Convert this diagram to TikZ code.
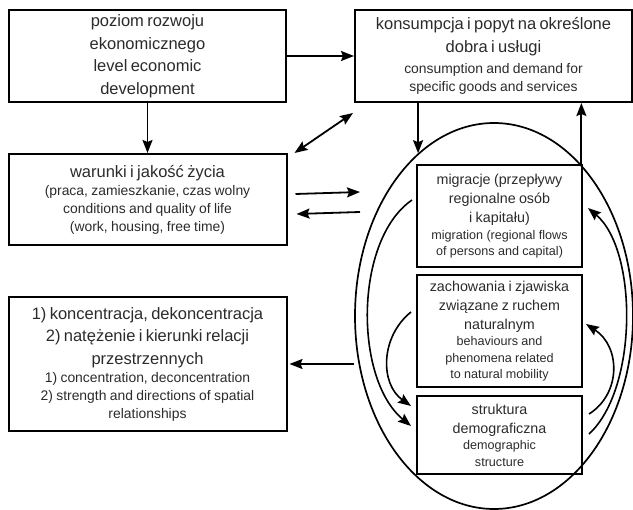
\documentclass[tikz,border=0pt]{standalone}
\usepackage{fontspec}
\setmainfont{Liberation Sans}
\usetikzlibrary{arrows.meta,positioning,shapes.geometric}
\definecolor{Ink}{HTML}{2B2B2B}
\newcommand{\headfont}{\fontsize{16.5}{22.5}\selectfont}
\newcommand{\notefont}{\fontsize{13.9}{18}\selectfont}
\newcommand{\inhead}{\fontsize{14.3}{19.2}\selectfont}
\newcommand{\innote}{\fontsize{12.6}{16.4}\selectfont}

\begin{document}
\begin{tikzpicture}[x=1pt,y=-1pt,node distance=50pt and 67pt,
    >={Stealth[length=13pt,width=10pt,inset=2pt]},
    box/.style={draw,line width=2pt,inner sep=0pt,align=center,text=Ink},
    arr/.style={->,line width=1.8pt},
    curarr/.style={->,line width=1.6pt}]
  \useasboundingbox (0,0) rectangle (633,510);
  \node[box,text width=277pt,minimum height=92pt] (level) at (147.5,56)
    {\headfont poziom rozwoju\\ ekonomicznego\\ level economic\\ development\par};
  \node[box,text width=277pt,minimum height=92pt,right=of level] (cons)
    {{\headfont konsumpcja i popyt na określone\\ dobra i usługi\par}\vspace{3pt}
     \notefont consumption and demand for\\ specific goods and services\par};
  \node[box,text width=278pt,minimum height=91pt,below=of level] (cond)
    {{\headfont warunki i jakość życia\par}
     \notefont (praca, zamieszkanie, czas wolny\\ conditions and quality of life\\ (work, housing, free time)\par};
  \node[box,text width=278pt,minimum height=134pt,below=of cond] (rel)
    {{\headfont 1) koncentracja, dekoncentracja\\ 2) natężenie i kierunki relacji\\ przestrzennych\par}
     \notefont 1) concentration, deconcentration\\ 2) strength and directions of spatial\\ relationships\par};
  % demographic core
  \node[draw,ellipse,line width=1.7pt,inner sep=0pt,minimum width=278pt,minimum height=386pt] (egg) at (494,316) {};
  \node[box,text width=165pt,minimum height=102pt] (mig) at (499.5,216)
    {{\inhead migracje (przepływy\\ regionalne osób\\ i kapitału)\par}
     \innote migration (regional flows\\ of persons and capital)\par};
  \node[box,text width=165pt,minimum height=112pt,below=6pt of mig] (beh)
    {{\inhead zachowania i zjawiska\\ związane z ruchem\\ naturalnym\par}
     \innote behaviours and\\ phenomena related\\ to natural mobility\par};
  \node[box,text width=165pt,minimum height=78pt,below=7pt of beh] (dem)
    {{\inhead struktura\\ demograficzna\par}
     \innote demographic\\ structure\par};
  \coordinate (toegg) at (360,192);
  \coordinate (fromegg) at (360,212);
  \draw[arr] (level) -- (cond);
  \draw[arr] (level) -- (cons);
  \draw[arr,<->] ([shift={(7,0)}]cond.north east) -- ([shift={(-1,10)}]cons.south west);
  \draw[arr] ([shift={(8,-5.5)}]cond.east) -- (toegg);
  \draw[arr] (fromegg) -- ([shift={(9,14.5)}]cond.east);
  \draw[arr] (egg.115 |- cons.south) -- (egg.115);
  \draw[arr] (egg.60) -- (egg.60 |- cons.south);
  \draw[arr] (egg.west |- rel.east) -- ([xshift=2pt]rel.east);
  % feedback loops
  \draw[curarr] ([shift={(-4,-16)}]mig.west) .. controls +(-58,40) and +(-57,-47) .. ([shift={(-5,-9)}]dem.west);
  \draw[curarr] ([shift={(-5,-19)}]beh.west) .. controls +(-31,25) and +(-31,-22) .. ([shift={(-5,-29)}]dem.west);
  \draw[curarr] ([shift={(6,-1)}]dem.east) .. controls +(49,-45) and +(50,42) .. ([shift={(5,-8)}]mig.east);
  \draw[curarr] ([shift={(6,-21)}]dem.east) .. controls +(32,-20) and +(35,23) .. ([shift={(3,-7)}]beh.east);
\end{tikzpicture}
\end{document}
